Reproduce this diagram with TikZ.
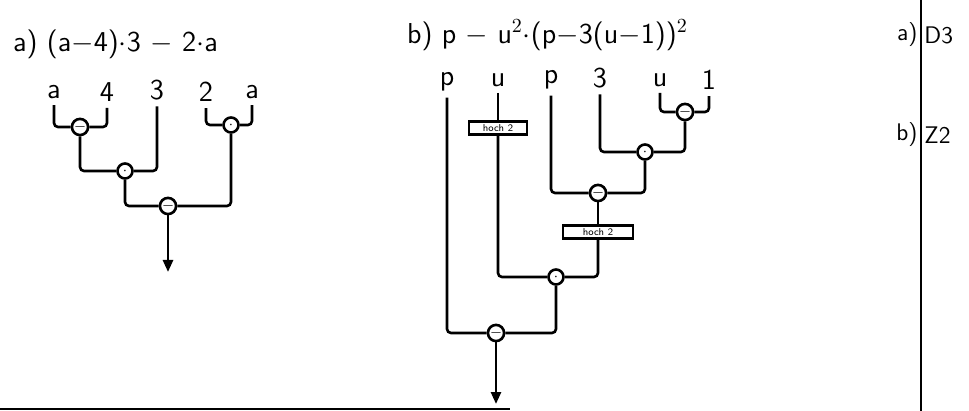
\documentclass[tikz,border=0pt]{standalone}
\usetikzlibrary{arrows.meta, positioning}

\begin{document}
\begin{tikzpicture}[
  x=0.5pt, y=-0.5pt,
  every node/.style={font=\sffamily},
  leaf/.style={font=\sffamily\Large, inner sep=3pt},
  title/.style={font=\sffamily\Large, anchor=west},
  op/.style={draw, circle, line width=1.3pt, minimum size=7.5pt, inner sep=0pt, font=\scriptsize},
  hoch/.style={draw, rectangle, line width=1.4pt, minimum height=6.5pt, inner sep=0.5pt, font=\sffamily\tiny},
  wire/.style={line width=1.3pt, rounded corners=2pt},
  arrow/.style={-{Triangle[width=5pt, length=6pt]}, line width=1.3pt}
]
\useasboundingbox (0,0) rectangle (969,411);

% Titles
\node[title] (titleA) at (6,44) {a) (a$-$4)$\cdot$3 $-$ 2$\cdot$a};
\node[title] (titleB) at (400,35) {b) p $-$ u$^2\cdot$(p$-$3(u$-$1))$^2$};

% Part a: leaves
\node[leaf] (a1) at (54,92) {a};
\node[leaf] (a4) at (107,92) {4};
\node[leaf] (a3) at (157,90) {3};
\node[leaf] (a2) at (206,92) {2};
\node[leaf] (a5) at (252,92) {a};

% Part a: operators
\node[op] (aop1) at (80,127) {$-$};
\node[op] (aop2) at (125,171) {$\cdot$};
\node[op] (aop3) at (231,125) {$\cdot$};
\node[op] (aop4) at (168,206) {$-$};
\coordinate (aout) at (168,272);

% Part a: wires
\draw[wire] (a1) |- (aop1);
\draw[wire] (a4) |- (aop1);
\draw[wire] (aop1) |- (aop2);
\draw[wire] (a3) |- (aop2);
\draw[wire] (a2) |- (aop3);
\draw[wire] (a5) |- (aop3);
\draw[wire] (aop2) |- (aop4);
\draw[wire] (aop3) |- (aop4);
\draw[arrow] (aop4) -- (aout);

% Part b: leaves
\node[leaf] (b1) at (447,82) {p};
\node[leaf] (b2) at (498,80) {u};
\node[leaf] (b3) at (551,80) {p};
\node[leaf] (b4) at (600,78) {3};
\node[leaf] (b5) at (660,80) {u};
\node[leaf] (b6) at (709,80) {1};

% Part b: squaring boxes
\node[hoch, minimum width=29pt] (hoch1) at (498,128) {hoch 2};
\node[hoch, minimum width=35pt] (hoch2) at (598,232) {hoch 2};

% Part b: operators
\node[op] (bop1) at (685,112) {$-$};
\node[op] (bop2) at (645,152) {$\cdot$};
\node[op] (bop3) at (598,193) {$-$};
\node[op] (bop4) at (556,277) {$\cdot$};
\node[op] (bop5) at (496,333) {$-$};
\coordinate (bout) at (496,404);

% Part b: wires
\draw[wire] (b5) |- (bop1);
\draw[wire] (b6) |- (bop1);
\draw[wire] (b4) |- (bop2);
\draw[wire] (bop1) |- (bop2);
\draw[wire] (b3) |- (bop3);
\draw[wire] (bop2) |- (bop3);
\draw[wire] (bop3) -- (hoch2);
\draw[wire] (b2) -- (hoch1);
\draw[wire] (hoch1) |- (bop4);
\draw[wire] (hoch2) |- (bop4);
\draw[wire] (b1) |- (bop5);
\draw[wire] (bop4) |- (bop5);
\draw[arrow] (bop5) -- (bout);

% Page edges
\coordinate (edgeL) at (0,409);
\coordinate (edgeR) at (510,409);
\draw[line width=1pt] (edgeL) -- (edgeR);
\coordinate (sepTop) at (921,0);
\coordinate (sepBot) at (921,411);
\draw[line width=1.3pt] (sepTop) -- (sepBot);

% Answers
\node[font=\sffamily\large, anchor=east, inner sep=1pt] (ansAl) at (920,35) {a)};
\node[font=\sffamily\large, anchor=west, inner sep=1pt] (ansAr) at (922,35) {D3};
\node[font=\sffamily\large, anchor=east, inner sep=1pt] (ansBl) at (920,135) {b)};
\node[font=\sffamily\large, anchor=west, inner sep=1pt] (ansBr) at (922,135) {Z2};

\end{tikzpicture}
\end{document}
